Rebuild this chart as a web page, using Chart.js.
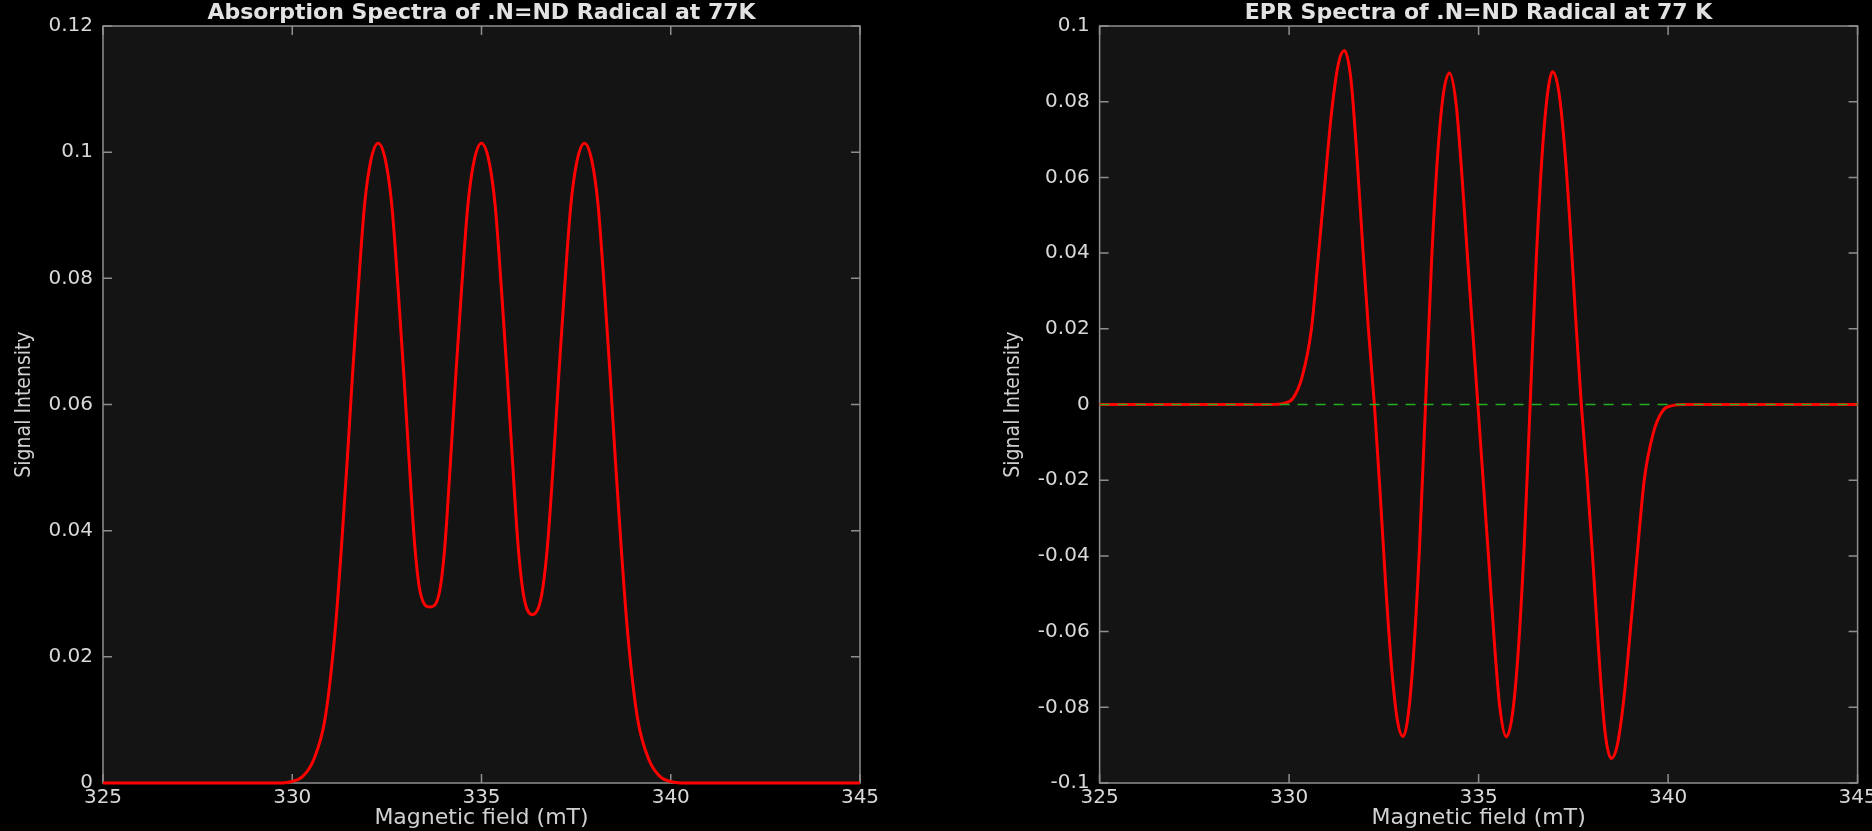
<!DOCTYPE html>
<html>
<head>
<meta charset="utf-8">
<script src="https://cdn.jsdelivr.net/npm/chart.js@4.4.1/dist/chart.umd.min.js"></script>
<style>
  html, body { margin: 0; padding: 0; background: #000; overflow: hidden; }
  #left { position: absolute; left: 0; top: 0; width: 936px; height: 831px; }
  #right { position: absolute; left: 936px; top: 0; width: 1000px; height: 831px; }
</style>
</head>
<body>
<div id="left"><canvas id="absChart"></canvas></div>
<div id="right"><canvas id="eprChart"></canvas></div>
<script>
// absorption spectrum (left)
const absField = [325, 329.6, 329.97, 330.27, 330.56, 330.87, 331.13, 331.30, 331.45, 331.59, 331.74, 331.91, 332.07, 332.27, 332.47, 332.63, 332.80, 332.95, 333.09, 333.24, 333.39, 333.64, 333.88, 334.03, 334.18, 334.32, 334.47, 334.64, 334.80, 335.00, 335.20, 335.36, 335.53, 335.68, 335.82, 335.97, 336.12, 336.35, 336.58, 336.74, 336.90, 337.04, 337.19, 337.36, 337.52, 337.72, 337.92, 338.08, 338.25, 338.40, 338.54, 338.69, 338.86, 339.12, 339.43, 339.72, 340.02, 340.4, 345];
const absSignal = [0, 0, 0.0002, 0.001, 0.0036, 0.0103, 0.0239, 0.0374, 0.0509, 0.0645, 0.078, 0.0916, 0.0985, 0.1014, 0.0985, 0.0916, 0.078, 0.0645, 0.0509, 0.0374, 0.0300, 0.0279, 0.0300, 0.0374, 0.0509, 0.0645, 0.078, 0.0916, 0.0985, 0.1014, 0.0985, 0.0916, 0.078, 0.0645, 0.0509, 0.0374, 0.0295, 0.0267, 0.0295, 0.0374, 0.0509, 0.0645, 0.078, 0.0916, 0.0985, 0.1014, 0.0985, 0.0916, 0.078, 0.0645, 0.0509, 0.0374, 0.0239, 0.0103, 0.0036, 0.001, 0.0002, 0, 0];

// first-derivative EPR spectrum (right)
const eprField = [325, 329.5, 329.85, 330.1, 330.35, 330.59, 330.77, 330.94, 331.12, 331.30, 331.46, 331.63, 331.80, 331.96, 332.10, 332.25, 332.40, 332.55, 332.70, 332.85, 333.01, 333.13, 333.27, 333.44, 333.60, 333.76, 333.92, 334.07, 334.23, 334.40, 334.55, 334.70, 334.84, 334.98, 335.12, 335.26, 335.41, 335.56, 335.73, 335.89, 336.04, 336.20, 336.36, 336.52, 336.69, 336.83, 336.95, 337.11, 337.26, 337.41, 337.56, 337.71, 337.86, 338.00, 338.16, 338.33, 338.50, 338.66, 338.84, 339.02, 339.19, 339.37, 339.61, 339.86, 340.11, 340.46, 345];
const eprSignal = [0, 0, 0.0003, 0.0016, 0.0075, 0.0200, 0.0390, 0.0579, 0.0771, 0.0900, 0.0935, 0.0860, 0.0640, 0.0390, 0.0190, 0, -0.0230, -0.0480, -0.0690, -0.0830, -0.0877, -0.0830, -0.0680, -0.0380, 0, 0.0380, 0.0660, 0.0820, 0.0876, 0.0800, 0.0620, 0.0400, 0.0200, 0, -0.0200, -0.0400, -0.0620, -0.0800, -0.0878, -0.0820, -0.0660, -0.0380, 0, 0.0380, 0.0680, 0.0830, 0.0879, 0.0830, 0.0690, 0.0480, 0.0230, 0, -0.0190, -0.0390, -0.0640, -0.0860, -0.0935, -0.0900, -0.0771, -0.0579, -0.0390, -0.0200, -0.0075, -0.0016, -0.0003, 0, 0];

// baseline
const zeroField = [325, 345];
const zeroLevel = [0, 0];

Chart.defaults.font.family = "'DejaVu Sans', sans-serif";
Chart.defaults.color = '#d8d8d8';

function points(xs, ys) {
  return xs.map((x, i) => ({ x: x, y: ys[i] }));
}

// dark plot area, box and inward ticks
const frame = {
  id: 'frame',
  beforeDraw(chart) {
    const a = chart.chartArea, ctx = chart.ctx;
    ctx.save();
    ctx.fillStyle = '#141414';
    ctx.fillRect(a.left, a.top, a.right - a.left, a.bottom - a.top);
    ctx.restore();
  },
  beforeDatasetsDraw(chart) {
    const a = chart.chartArea, ctx = chart.ctx;
    const xs = chart.scales.x, ys = chart.scales.y;
    const len = 9;
    ctx.save();
    ctx.strokeStyle = '#8e8e8e';
    ctx.lineWidth = 1.5;
    ctx.strokeRect(a.left, a.top, a.right - a.left, a.bottom - a.top);
    ctx.beginPath();
    xs.ticks.forEach(t => {
      const px = xs.getPixelForValue(t.value);
      ctx.moveTo(px, a.bottom); ctx.lineTo(px, a.bottom - len);
      ctx.moveTo(px, a.top); ctx.lineTo(px, a.top + len);
    });
    ys.ticks.forEach(t => {
      const py = ys.getPixelForValue(t.value);
      ctx.moveTo(a.left, py); ctx.lineTo(a.left + len, py);
      ctx.moveTo(a.right, py); ctx.lineTo(a.right - len, py);
    });
    ctx.stroke();
    ctx.restore();
  }
};

function makeOptions(title, ymin, ymax, padLeft, padRight, yWidth) {
  return {
    responsive: true,
    maintainAspectRatio: false,
    animation: false,
    layout: { padding: { left: padLeft, right: padRight, top: 0, bottom: 0 } },
    plugins: {
      legend: { display: false },
      tooltip: { enabled: false },
      title: {
        display: true,
        text: title,
        fullSize: false,
        color: '#e2e2e2',
        font: { size: 22, weight: 'bold', lineHeight: 1.0 },
        padding: { top: 2, bottom: 2 }
      }
    },
    scales: {
      x: {
        type: 'linear',
        min: 325,
        max: 345,
        grid: { display: false, drawTicks: false },
        border: { display: false },
        ticks: { stepSize: 5, padding: 3, color: '#d8d8d8', font: { size: 20 }, maxRotation: 0 },
        title: {
          display: true,
          text: 'Magnetic field (mT)',
          color: '#d0d0d0',
          font: { size: 22 },
          padding: { top: 0, bottom: 0 }
        },
        afterFit: s => { s.height = 48; }
      },
      y: {
        min: ymin,
        max: ymax,
        grid: { display: false, drawTicks: false },
        border: { display: false },
        ticks: {
          stepSize: 0.02,
          padding: 10,
          color: '#d8d8d8',
          font: { size: 20 },
          callback: v => String(parseFloat(v.toFixed(4)))
        },
        title: {
          display: true,
          text: 'Signal Intensity',
          color: '#d0d0d0',
          font: { size: 21, family: "'Liberation Sans Narrow', 'DejaVu Sans Condensed', 'Liberation Sans', sans-serif" },
          padding: { top: 12, bottom: 0 }
        },
        afterFit: s => { s.width = yWidth; }
      }
    }
  };
}

new Chart(document.getElementById('absChart'), {
  type: 'line',
  data: {
    datasets: [{
      data: points(absField, absSignal),
      borderColor: '#ff0000',
      borderWidth: 3,
      pointRadius: 0,
      cubicInterpolationMode: 'monotone',
      clip: 4
    }]
  },
  options: makeOptions('Absorption Spectra of .N=ND Radical at 77K', 0, 0.12, 0, 76, 103),
  plugins: [frame]
});

new Chart(document.getElementById('eprChart'), {
  type: 'line',
  data: {
    datasets: [{
      data: points(eprField, eprSignal),
      borderColor: '#ff0000',
      borderWidth: 3,
      pointRadius: 0,
      cubicInterpolationMode: 'monotone',
      order: 1,
      clip: 4
    }, {
      data: points(zeroField, zeroLevel),
      borderColor: '#22b022',
      borderWidth: 1.5,
      borderDash: [10, 8],
      pointRadius: 0,
      order: 0
    }]
  },
  options: makeOptions('EPR Spectra of .N=ND Radical at 77 K', -0.1, 0.1, 53, 78.4, 110.6),
  plugins: [frame]
});
</script>
</body>
</html>
